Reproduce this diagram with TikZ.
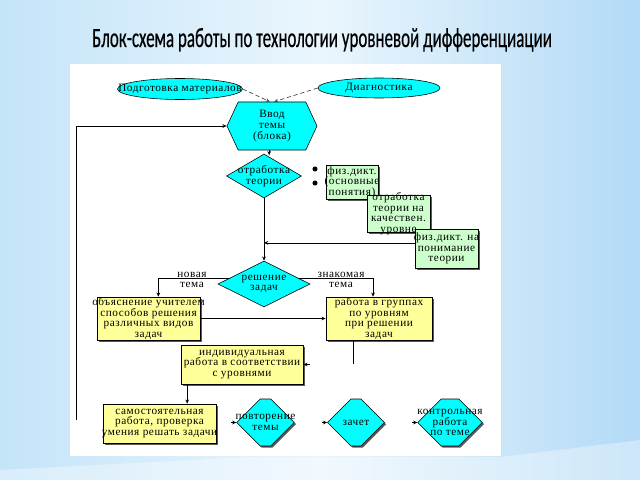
\documentclass[tikz,border=0pt]{standalone}
\usepackage{fontspec}
\usepackage{graphicx}
\setmainfont{Liberation Serif}
\newfontfamily\dfont[LetterSpace=5]{Liberation Serif}
\newfontfamily\tfont[FakeBold=0.6]{Carlito}
\usetikzlibrary{shapes.geometric,shapes.symbols,shapes.misc,arrows.meta,shadows,calc}
\definecolor{bgA}{HTML}{C4E4F9}
\definecolor{bgB}{HTML}{EAF6FD}
\definecolor{bgC}{HTML}{B3DAF6}
\definecolor{cy}{HTML}{00FFFF}
\definecolor{yl}{HTML}{FFFF99}
\definecolor{gr}{HTML}{CCFFCC}
\newcommand\octbox[1]{\makebox[#1]{\rule[-7.5pt]{0pt}{15pt}}}
\tikzset{
  every node/.style={font=\dfont\fontsize{8}{7.5}\selectfont, inner sep=0pt, align=center},
  T/.style={label={[align=center]center:{#1}}},
  ln/.style={line width=0.5pt, black},
  arr/.style={ln, -{Stealth[length=3pt,width=2.6pt]}},
  darr/.style={line width=0.5pt, gray!60!black, densely dashed, -{Stealth[length=3pt,width=2.6pt]}},
  ell/.style={ellipse, draw, line width=0.4pt, fill=cy},
  hexa/.style={signal, signal to=east and west, signal pointer angle=130, draw, line width=0.4pt, fill=cy, minimum width=2.25cm, minimum height=1.2cm},
  dia/.style={diamond, draw, line width=0.4pt, fill=cy},
  shad/.style={general shadow={fill=black!65, shadow xshift=1.2pt, shadow yshift=-1.2pt}},
  gbox/.style={rectangle, draw, line width=0.4pt, fill=gr, shad},
  ybox/.style={rectangle, draw, line width=0.4pt, fill=yl, shad},
  oct/.style={chamfered rectangle, chamfered rectangle xsep=9.2pt, chamfered rectangle ysep=9.2pt, draw, line width=0.4pt, fill=cy, shad},
}
\begin{document}
\begin{tikzpicture}[x=0.025cm,y=-0.025cm]
\useasboundingbox (0,0) rectangle (640,480);
% background
\shade[left color=bgA, right color=bgC, middle color=bgB] (0,0) rectangle (640,480);
\fill[white, opacity=0.35] (0,480) -- (0,470) -- (250,457) -- (501,457) -- (640,440) -- (640,480) -- cycle;
\fill[white] (70,64) rectangle (501,456);
% title
\node[anchor=base, text=black] (title) at (322,47) {\resizebox{327pt}{13.5pt}{\tfont Блок-схема работы по технологии уровневой дифференциации}};
% nodes
\node[ell, minimum width=3.125cm, minimum height=0.525cm, T={Подготовка материалов}] (prep) at (180,89) {};
\node[ell, minimum width=3.05cm, minimum height=0.5cm, T={Диагностика}] (diag) at (379,88) {};
\node[hexa, T={Ввод\\темы\\(блока)}] (hex) at (272,126) {};
\node[dia, minimum width=1.875cm, minimum height=1.1cm, T={отработка\\теории}] (d1) at (264,176) {};
\fill (315,169) circle (1.8pt);
\fill (315,183) circle (1.8pt);
\node[gbox, minimum width=1.3cm, minimum height=0.85cm, T={физ.дикт.\\(основные\\понятия)}] (g1) at (352,182) {};
\node[gbox, minimum width=1.575cm, minimum height=0.925cm, T={отработка\\теории на\\качествен.\\уровне}] (g2) at (398.5,213.5) {};
\node[gbox, minimum width=1.575cm, minimum height=0.975cm, T={физ.дикт. на\\понимание\\теории}] (g3) at (446.5,248.5) {};
\node[dia, minimum width=2.3cm, minimum height=1.15cm, T={решение\\задач}] (d2) at (264,284) {};
\node[ybox, minimum width=2.575cm, minimum height=1.075cm, T={объяснение учителем\\способов решения\\различных видов\\задач}] (obj) at (148.5,318.5) {};
\node[ybox, minimum width=2.65cm, minimum height=1.075cm, T={работа в группах\\по уровням\\при решении\\задач}] (grp) at (379,318.5) {};
\node[ybox, minimum width=3.05cm, minimum height=0.975cm, T={индивидуальная\\работа в соответствии\\с уровнями}] (ind) at (242,364.5) {};
\node[ybox, minimum width=2.825cm, minimum height=0.975cm, T={самостоятельная\\работа, проверка\\умения решать задачи}] (sam) at (159.5,423.5) {};
\node[oct, T={повторение\\темы}] (rep) at (265.5,422.5) {\octbox{26pt}};
\node[oct, T={зачет}] (zach) at (356,422.5) {\octbox{25.5pt}};
\node[oct, T={контрольная\\работа\\по теме}] (kontr) at (450,422.5) {\octbox{31pt}};
% labels
\node (lnew) at (192,280) {новая\\тема};
\node (lold) at (341,280) {знакомая\\тема};
% connectors
\draw[darr] (prep.east) -- ([xshift=-1.5pt]hex.north);
\draw[darr] (diag.west) -- ([xshift=1.5pt]hex.north);
\draw[arr] ([xshift=-2pt]hex.south) -- ++(0,5);
\draw[arr] (d1.south) -- (d2.north);
\draw[arr] ([yshift=4pt]g3.west) -- ([yshift=4pt]g3.west -| d1.south);
\coordinate (loop) at (76,420);
\draw[arr] (loop) |- (hex.west);
\draw[arr] (d2.170) -| ([xshift=7pt]obj.north);
\draw[arr] (d2.10) -| ([xshift=-4.25pt]grp.north);
\draw[arr] (obj.east) -- (grp.west);
\draw[ln] ([xshift=-18.4pt]grp.south) -- ++(0,24);
\draw[arr] ([xshift=5pt]ind.east) -- (ind.east);
\draw[arr] ([xshift=-39pt]ind.south) -- ([xshift=-39pt]ind.south |- sam.north);
\draw[arr] ([xshift=-3.5pt]rep.west) -- (rep.west);
\draw[arr] ([xshift=-3.5pt]zach.west) -- (zach.west);
\draw[arr] ([xshift=-3.5pt]kontr.west) -- (kontr.west);
\end{tikzpicture}
\end{document}
